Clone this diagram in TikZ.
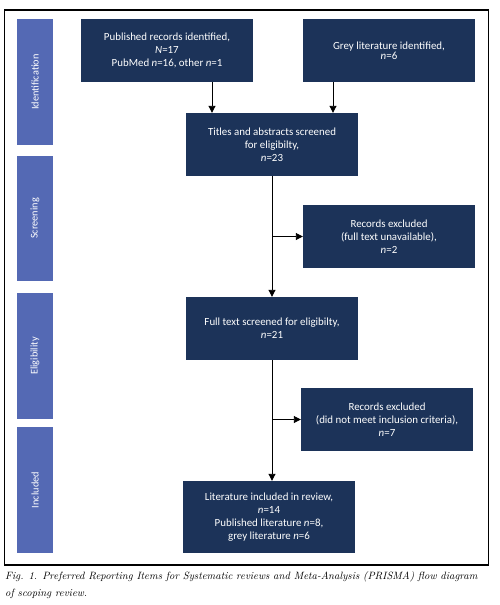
\documentclass[tikz,border=0pt]{standalone}
\usepackage{fontspec}
\setsansfont{Carlito}
\usetikzlibrary{arrows.meta}
\definecolor{navy}{RGB}{28,51,89}
\definecolor{phase}{RGB}{84,105,180}
\tikzset{
  box/.style={rectangle, fill=navy, text=white, minimum width=172pt, minimum height=63pt, align=center, inner sep=2pt, font=\sffamily\fontsize{10.9}{12.9}\selectfont},
  phasebar/.style={rectangle, fill=phase, text=white, minimum width=36pt},
  phasetext/.style={rotate=90, text=white, font=\sffamily\fontsize{10.3}{11}\selectfont},
  arr/.style={-{Triangle[width=7pt,length=7pt]}, line width=0.9pt},
  ln/.style={line width=0.9pt}
}
\begin{document}
\begin{tikzpicture}[x=1pt,y=-1pt]
\useasboundingbox (0,0) rectangle (500,605);
\fill[white] (0,0) rectangle (500,605);
\draw[line width=1.2pt] (4.5,10) rectangle (488.5,565);
% phase bars
\node[phasebar, minimum height=126pt] (p1) at (35,82) {};
\node[phasetext] (t1) at (p1.center) {Identification};
\node[phasebar, minimum height=125pt] (p2) at (35,218.5) {};
\node[phasetext] (t2) at (p2.center) {Screening};
\node[phasebar, minimum height=126pt] (p3) at (35,356) {};
\node[phasetext] (t3) at (p3.center) {Eligibility};
\node[phasebar, minimum height=126pt] (p4) at (35,490) {};
\node[phasetext] (t4) at (p4.center) {Included};
% boxes
\node[box] (b1) at (167,50.5) {Published records identified,\\\textit{N}=17\\PubMed \textit{n}=16, other \textit{n}=1};
\node[box] (b2) at (389,50.5) {\raisebox{-3pt}{Grey literature identified,}\\\textit{n}=6};
\node[box] (b3) at (272,144.5) {Titles and abstracts screened\\for eligibilty,\\\textit{n}=23};
\node[box] (b4) at (389,236.5) {Records excluded\\(full text unavailable),\\\textit{n}=2};
\node[box] (b5) at (272,328.5) {Full text screened for eligibilty,\\\textit{n}=21};
\node[box] (b6) at (387,419.5) {Records excluded\\(did not meet inclusion criteria),\\\textit{n}=7};
\node[box, minimum height=72pt] (b7) at (269,517) {Literature included in review,\\\textit{n}=14\\Published literature \textit{n}=8,\\grey literature \textit{n}=6};
% connectors
\draw[arr] (b1.south -| 212,0) -- (b3.north -| 212,0);
\draw[arr] (b2.south -| 333,0) -- (b3.north -| 333,0);
\draw[arr] (b3.south) -- (b5.north);
\coordinate (j1) at (272,236.5);
\draw[arr] (j1) -- (b4.west);
\draw[arr] (b5.south -| 272,0) -- (b7.north -| 272,0);
\coordinate (j2) at (272,419.5);
\draw[arr] (j2) -- (b6.west);
% caption
\node[anchor=north west, align=left, inner sep=0pt, font=\fontsize{10.6}{17}\selectfont\itshape] (cap) at (5,571) {Fig. 1. Preferred Reporting Items for Systematic reviews and Meta-Analysis (PRISMA) flow diagram\\of scoping review.};
\end{tikzpicture}
\end{document}
